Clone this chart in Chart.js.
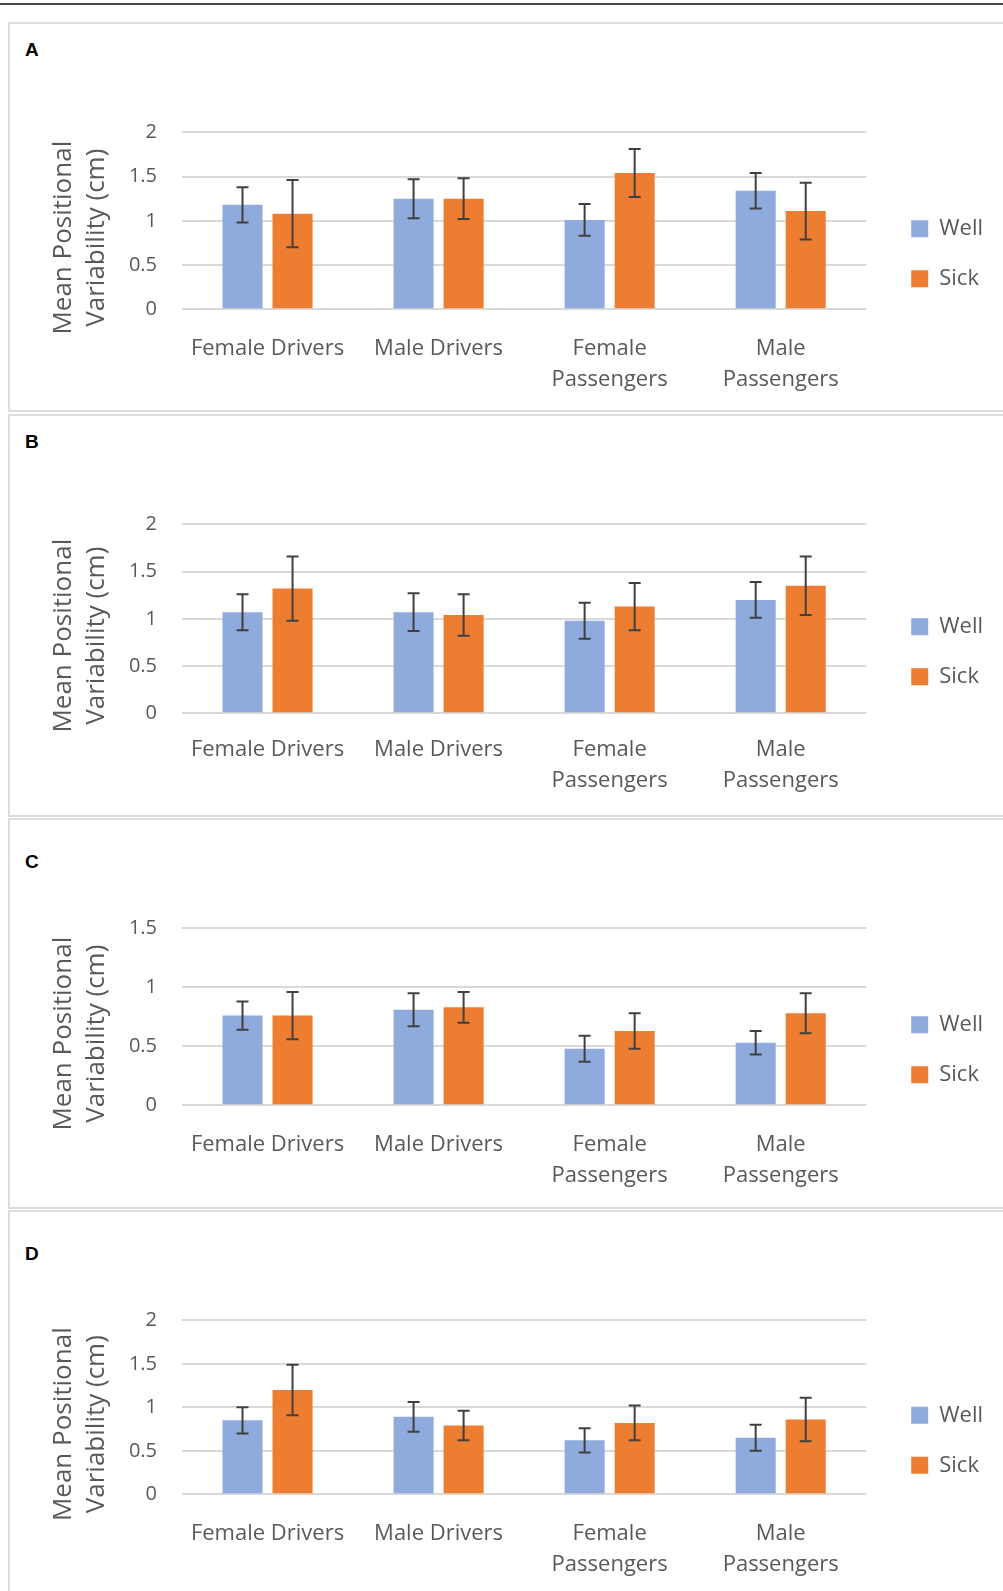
<!DOCTYPE html>
<html>
<head>
<meta charset="utf-8">
<script src="https://cdn.jsdelivr.net/npm/chart.js@4.4.1/dist/chart.umd.min.js"></script>
<style>
  body { margin: 0; background: #fff; width: 1003px; height: 1591px; position: relative; overflow: hidden; }
  .rule { position: absolute; left: 0; top: 3px; width: 1003px; height: 2px; background: #4a4a4a; }
  .panel { position: absolute; left: 8px; width: 1010px; border: 2px solid #dedede; box-sizing: border-box; }
  .tag { position: absolute; left: 25px; font: bold 19px/19px "Liberation Sans", Arial, sans-serif; color: #000; }
  canvas { position: absolute; left: 10px; }
</style>
</head>
<body>
<div class="rule"></div>
<div class="panel" style="top:22px;height:390px"></div>
<div class="panel" style="top:414px;height:403px"></div>
<div class="panel" style="top:818px;height:391px"></div>
<div class="panel" style="top:1210px;height:400px"></div>
<div class="tag" style="top:40px">A</div>
<div class="tag" style="top:432px">B</div>
<div class="tag" style="top:852px">C</div>
<div class="tag" style="top:1244px">D</div>
<canvas id="chartA" width="993" height="386" style="top:24px"></canvas>
<canvas id="chartB" width="993" height="399" style="top:416px"></canvas>
<canvas id="chartC" width="993" height="387" style="top:820px"></canvas>
<canvas id="chartD" width="993" height="379" style="top:1212px"></canvas>
<script>
const categories = ['Female Drivers', 'Male Drivers', ['Female', 'Passengers'], ['Male', 'Passengers']];
const seriesNames = ['Well', 'Sick'];

// A
const wellA = [1.18, 1.25, 1.01, 1.34];
const wellErrA = [0.20, 0.22, 0.18, 0.20];
const sickA = [1.08, 1.25, 1.54, 1.11];
const sickErrA = [0.38, 0.23, 0.27, 0.32];
const yMaxA = 2;

// B
const wellB = [1.07, 1.07, 0.98, 1.20];
const wellErrB = [0.19, 0.20, 0.19, 0.19];
const sickB = [1.32, 1.04, 1.13, 1.35];
const sickErrB = [0.34, 0.22, 0.25, 0.31];
const yMaxB = 2;

// C
const wellC = [0.76, 0.81, 0.48, 0.53];
const wellErrC = [0.12, 0.14, 0.11, 0.10];
const sickC = [0.76, 0.83, 0.63, 0.78];
const sickErrC = [0.20, 0.13, 0.15, 0.17];
const yMaxC = 1.5;

// D
const wellD = [0.85, 0.89, 0.62, 0.65];
const wellErrD = [0.15, 0.17, 0.14, 0.15];
const sickD = [1.20, 0.79, 0.82, 0.86];
const sickErrD = [0.29, 0.17, 0.20, 0.25];
const yMaxD = 2;

const textGrey = '#595959';

// whiskers from the dataset's "errors" array
const errorBars = {
  id: 'errorBars',
  afterDatasetsDraw(chart) {
    const ctx = chart.ctx;
    const y = chart.scales.y;
    ctx.save();
    ctx.strokeStyle = '#404040';
    ctx.lineWidth = 2;
    chart.data.datasets.forEach((ds, i) => {
      chart.getDatasetMeta(i).data.forEach((bar, j) => {
        const top = y.getPixelForValue(ds.data[j] + ds.errors[j]);
        const bot = y.getPixelForValue(ds.data[j] - ds.errors[j]);
        ctx.beginPath();
        ctx.moveTo(bar.x, top); ctx.lineTo(bar.x, bot);
        ctx.moveTo(bar.x - 6, top); ctx.lineTo(bar.x + 6, top);
        ctx.moveTo(bar.x - 6, bot); ctx.lineTo(bar.x + 6, bot);
        ctx.stroke();
      });
    });
    ctx.restore();
  }
};

// legend sits a bit right of the plot and a bit below its middle
const legendShift = {
  id: 'legendShift',
  afterLayout(chart) {
    const lg = chart.legend;
    const mid = (chart.chartArea.top + chart.chartArea.bottom) / 2 + 33;
    const h = lg.bottom - lg.top;
    lg.left += 17;
    lg.right += 17;
    lg.top = mid - h / 2;
    lg.bottom = mid + h / 2;
  }
};

function panel(id, well, wellErr, sick, sickErr, yMax, padBottom, labelPad) {
  new Chart(document.getElementById(id), {
    type: 'bar',
    data: {
      labels: categories,
      datasets: [
        { label: seriesNames[0], data: well, errors: wellErr, backgroundColor: '#8faadc' },
        { label: seriesNames[1], data: sick, errors: sickErr, backgroundColor: '#ed7d31' }
      ]
    },
    options: {
      responsive: false,
      animation: false,
      categoryPercentage: 0.585,
      barPercentage: 0.8,
      layout: { padding: { top: 108.3, bottom: padBottom, left: 0, right: 27 } },
      plugins: {
        legend: {
          position: 'right',
          labels: {
            boxWidth: 17, boxHeight: 17, padding: 28, color: textGrey,
            font: { family: 'Open Sans', size: 22 }
          }
        },
        tooltip: { enabled: false }
      },
      scales: {
        x: {
          grid: { display: false, drawTicks: false },
          border: { display: false },
          ticks: {
            color: textGrey, padding: labelPad, maxRotation: 0, autoSkip: false,
            font: { family: 'Open Sans', size: 22, lineHeight: 1.45 }
          },
          afterFit(s) { s.height = 90; }
        },
        y: {
          min: 0, max: yMax,
          grid: { color: '#d9d9d9', lineWidth: 2, drawTicks: false },
          border: { display: false },
          ticks: {
            stepSize: 0.5, color: textGrey, padding: 25,
            font: { family: 'Open Sans', size: 20 },
            callback: v => String(v)
          },
          title: {
            display: true,
            // trailing spaces push the rotated text a little lower, like the original
            text: ['Mean Positional     ', 'Variability (cm)     '],
            color: textGrey,
            padding: { top: 37, bottom: 0 },
            font: { family: 'Open Sans', size: 26, lineHeight: 1.27 }
          },
          afterFit(s) { s.width = 172; }
        }
      }
    },
    plugins: [errorBars, legendShift]
  });
}

panel('chartA', wellA, wellErrA, sickA, sickErrA, yMaxA, 10.7, 23);
panel('chartB', wellB, wellErrB, sickB, sickErrB, yMaxB, 11.7, 20);
panel('chartC', wellC, wellErrC, sickC, sickErrC, yMaxC, 11.7, 23);
panel('chartD', wellD, wellErrD, sickD, sickErrD, yMaxD, 6.7, 23);
</script>
</body>
</html>
